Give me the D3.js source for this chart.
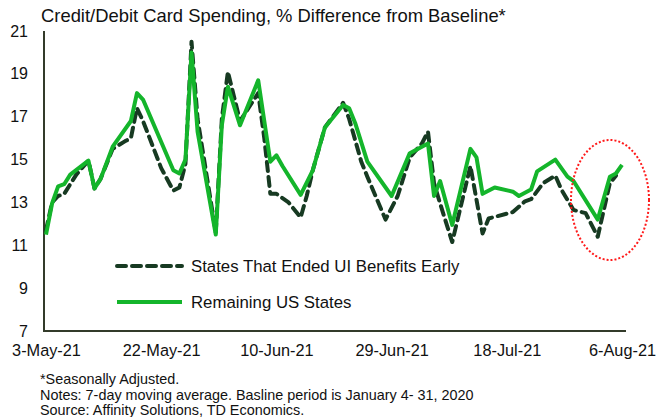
<!DOCTYPE html>
<html>
<head>
<meta charset="utf-8">
<script src="https://cdn.jsdelivr.net/npm/d3@7"></script>
<style>
  html, body { margin: 0; padding: 0; background: #fff; }
  svg { display: block; font-family: "Liberation Sans", Arial, sans-serif; }
</style>
</head>
<body>
<svg id="chart" width="658" height="417"></svg>
<script>
// ---- Data ----
const title = "Credit/Debit Card Spending, % Difference from Baseline*";
const seriesNames = ["States That Ended UI Benefits Early", "Remaining US States"];

const earlyDates = ["2021-05-03","2021-05-04","2021-05-05","2021-05-06","2021-05-08","2021-05-10","2021-05-11","2021-05-12","2021-05-14","2021-05-16","2021-05-17","2021-05-18","2021-05-19","2021-05-22","2021-05-24","2021-05-25","2021-05-26","2021-05-27","2021-05-28","2021-05-31","2021-06-01","2021-06-02","2021-06-04","2021-06-07","2021-06-08","2021-06-09","2021-06-10","2021-06-12","2021-06-14","2021-06-15","2021-06-16","2021-06-18","2021-06-21","2021-06-22","2021-06-24","2021-06-25","2021-06-28","2021-06-30","2021-07-02","2021-07-04","2021-07-05","2021-07-06","2021-07-07","2021-07-09","2021-07-12","2021-07-14","2021-07-15","2021-07-19","2021-07-21","2021-07-22","2021-07-24","2021-07-26","2021-07-27","2021-07-29","2021-07-31","2021-08-02","2021-08-04","2021-08-05"];
const earlyValues = [11.7,13.0,13.3,13.4,14.3,14.95,13.65,14.1,15.5,15.85,16.0,17.4,16.8,14.6,13.55,13.7,14.8,20.5,16.9,11.6,16.9,19.1,16.8,18.1,16.0,13.4,13.4,13.0,12.3,13.3,14.5,16.5,17.65,16.9,14.9,14.2,12.2,13.3,15.1,15.75,16.3,13.9,12.95,11.15,14.7,11.55,12.25,12.55,13.05,13.15,13.9,14.25,13.6,12.65,12.5,11.4,13.9,14.25];

const remainDates = ["2021-05-03","2021-05-04","2021-05-05","2021-05-06","2021-05-07","2021-05-10","2021-05-11","2021-05-12","2021-05-14","2021-05-17","2021-05-18","2021-05-19","2021-05-24","2021-05-25","2021-05-26","2021-05-27","2021-05-28","2021-05-31","2021-06-01","2021-06-02","2021-06-04","2021-06-07","2021-06-09","2021-06-10","2021-06-11","2021-06-14","2021-06-16","2021-06-18","2021-06-21","2021-06-22","2021-06-23","2021-06-25","2021-06-29","2021-07-02","2021-07-05","2021-07-06","2021-07-07","2021-07-09","2021-07-12","2021-07-13","2021-07-14","2021-07-16","2021-07-19","2021-07-20","2021-07-22","2021-07-23","2021-07-26","2021-07-28","2021-07-29","2021-08-02","2021-08-04","2021-08-05","2021-08-06"];
const remainValues = [11.5,12.95,13.75,13.85,14.3,14.95,13.65,14.1,15.6,16.8,18.1,17.8,14.5,14.35,15.0,20.0,16.3,11.5,16.6,18.4,16.6,18.7,14.9,15.2,14.7,13.35,14.5,16.5,17.55,17.4,16.7,14.9,13.3,15.3,15.75,13.3,14.0,11.95,15.5,15.1,13.4,13.7,13.5,13.3,13.6,14.45,15.0,14.2,14.0,12.2,14.2,14.35,14.75];

const yTicks = [7, 9, 11, 13, 15, 17, 19, 21];
const xTickLabels = ["3-May-21","22-May-21","10-Jun-21","29-Jun-21","18-Jul-21","6-Aug-21"];
const footnotes = ["*Seasonally Adjusted.", "Notes: 7-day moving average. Basline period is January 4- 31, 2020", "Source: Affinity Solutions, TD Economics."];

// ---- Build ----
const parse = d3.timeParse("%Y-%m-%d");
const fmtTick = d3.timeFormat("%-d-%b-%y");
const early = earlyDates.map((d, i) => ({ date: parse(d), value: earlyValues[i] }));
const remain = remainDates.map((d, i) => ({ date: parse(d), value: remainValues[i] }));
const tickDates = xTickLabels.map(s => d3.timeParse("%d-%b-%y")(s));

const svg = d3.select("#chart");
const x = d3.scaleTime().domain([parse("2021-05-03"), parse("2021-08-06")]).range([46, 622]);
const y = d3.scaleLinear().domain([7, 21]).range([331, 31]);

const axisColor = "#333b2a";
const green = "#14b52b";
const dark = "#173a22";

// Title
svg.append("text").attr("x", 41).attr("y", 22).attr("font-size", 18.4).attr("fill", "#111").text(title);

// Y axis
const yAxis = d3.axisLeft(y).tickValues(yTicks).tickSize(0).tickPadding(16).tickFormat(d3.format("d"));
const gy = svg.append("g").attr("transform", "translate(44,0)").call(yAxis);
gy.select(".domain").remove();
gy.selectAll("text").attr("font-size", 16).attr("fill", "#111").attr("font-family", "Liberation Sans, Arial, sans-serif");
svg.append("line").attr("x1", 44).attr("x2", 44).attr("y1", 31).attr("y2", 331).attr("stroke", axisColor).attr("stroke-width", 2);

// X axis
const xAxis = d3.axisBottom(x).tickValues(tickDates).tickSize(0).tickPadding(13).tickFormat(fmtTick);
const gx = svg.append("g").attr("transform", "translate(0,331)").call(xAxis);
gx.select(".domain").remove();
gx.selectAll("text").attr("font-size", 16.3).attr("fill", "#111").attr("font-family", "Liberation Sans, Arial, sans-serif");
svg.append("line").attr("x1", 43).attr("x2", 626).attr("y1", 331).attr("y2", 331).attr("stroke", axisColor).attr("stroke-width", 2);

// Lines (dashed first, green on top)
const line = d3.line().x(d => x(d.date)).y(d => y(d.value));
svg.append("path").datum(early).attr("d", line).attr("fill", "none")
  .attr("stroke", dark).attr("stroke-width", 4).attr("stroke-dasharray", "9,6").attr("stroke-linecap", "round").attr("stroke-linejoin", "round");
svg.append("path").datum(remain).attr("d", line).attr("fill", "none")
  .attr("stroke", green).attr("stroke-width", 4).attr("stroke-linejoin", "round");

// Red dotted ellipse
svg.append("ellipse").attr("cx", 610).attr("cy", 200).attr("rx", 39).attr("ry", 60)
  .attr("fill", "none").attr("stroke", "#ff1a1a").attr("stroke-width", 2).attr("stroke-dasharray", "2,2");

// Legend
const legend = svg.append("g");
const legItems = [
  { name: seriesNames[0], color: dark, dash: "9,6", y: 266 },
  { name: seriesNames[1], color: green, dash: null, y: 302 }
];
legItems.forEach(it => {
  legend.append("line").attr("x1", 117).attr("x2", 182).attr("y1", it.y).attr("y2", it.y)
    .attr("stroke", it.color).attr("stroke-width", 4).attr("stroke-dasharray", it.dash)
    .attr("stroke-linecap", it.dash ? "round" : "butt");
  legend.append("text").attr("x", 191).attr("y", it.y + 6).attr("font-size", 16.8).attr("fill", "#111").text(it.name);
});

// Footnotes
footnotes.forEach((t, i) => {
  svg.append("text").attr("x", 40).attr("y", 384 + i * 15.5).attr("font-size", 14.4).attr("fill", "#111").text(t);
});
</script>
</body>
</html>
